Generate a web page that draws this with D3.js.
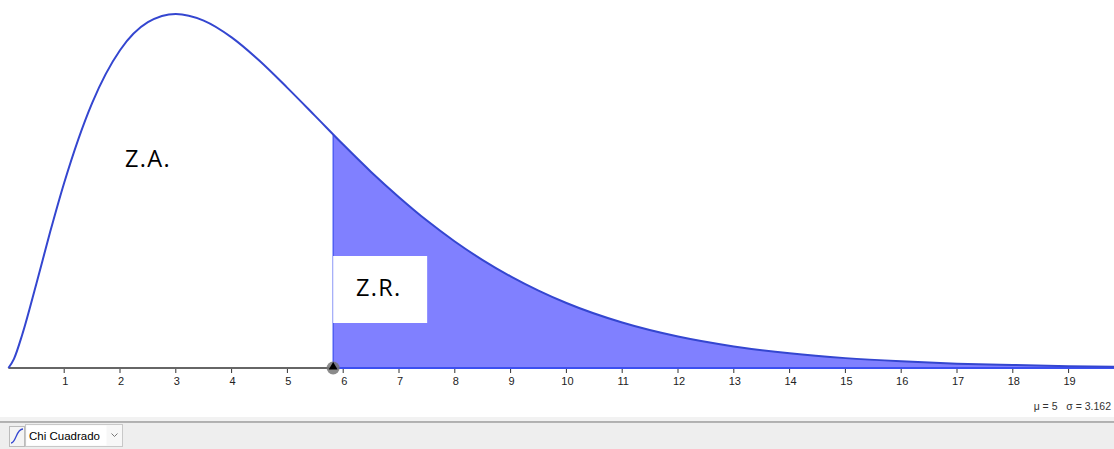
<!DOCTYPE html>
<html>
<head>
<meta charset="utf-8">
<script src="https://cdn.jsdelivr.net/npm/d3@7"></script>
<style>
  body { margin: 0; background: #fff; }
  svg { display: block; }
</style>
</head>
<body>
<div id="vis"></div>
<script>
// chi cuadrado, 5 grados de libertad

var xVals = [0, 0.1, 0.25, 0.5, 0.75, 1, 1.5, 2, 2.5, 3, 3.5, 4, 4.5, 5, 5.5, 6, 6.5, 7, 7.5, 8, 8.5, 9, 9.5, 10, 11, 12, 13, 14, 15, 16, 17, 18, 19, 20];
var density = [0, 0.0040, 0.0147, 0.0366, 0.0594, 0.0807, 0.1154, 0.1384, 0.1506, 0.1542, 0.1513, 0.1440, 0.1338, 0.1220, 0.1097, 0.0973, 0.0854, 0.0744, 0.0642, 0.0551, 0.0470, 0.0399, 0.0337, 0.0283, 0.0198, 0.0137, 0.0094, 0.0064, 0.0043, 0.0029, 0.0019, 0.0013, 0.0008, 0.0005];
var critical = [5.82, 0.1017];   // valor critico y su altura
var tickVals = d3.range(1, 20);
var stats = ['μ = 5', 'σ = 3.162'];
var zoneLabels = ['Z.A.', 'Z.R.'];

var W = 1114, H = 449;

svg = d3.select('#vis').append('svg')
  .attr('width', W)
  .attr('height', H);

var x = d3.scaleLinear().domain([0, 20]).range([8.4, 8.4 + 55.8 * 20]);
var y = d3.scaleLinear().domain([0, 0.158]).range([368, 5.2]);

var pts = xVals.map(function(v, i) { return [v, density[i]]; });
var tail = [critical].concat(pts.filter(function(p) { return p[0] > critical[0]; }));

// zona de rechazo
svg.append('path')
  .datum(tail)
  .attr('d', d3.area().x(function(d) { return x(d[0]); }).y0(y(0)).y1(function(d) { return y(d[1]); }).curve(d3.curveMonotoneX))
  .attr('fill', '#8080ff');

// borde izquierdo de la zona
svg.append('line')
  .attr('x1', x(critical[0])).attr('x2', x(critical[0]))
  .attr('y1', y(0)).attr('y2', y(critical[1]))
  .attr('stroke', '#3c4ff0').attr('stroke-width', 1.2);

// eje
svg.append('line')
  .attr('x1', x(0)).attr('x2', W)
  .attr('y1', y(0)).attr('y2', y(0))
  .attr('stroke', '#666').attr('stroke-width', 2);
svg.append('line')
  .attr('x1', x(critical[0])).attr('x2', W)
  .attr('y1', y(0)).attr('y2', y(0))
  .attr('stroke', '#3c4ff0').attr('stroke-width', 2);

var ax = svg.append('g').attr('transform', 'translate(0,' + y(0) + ')');
ax.selectAll('line.tk').data(tickVals).enter().append('line')
  .attr('class', 'tk')
  .attr('x1', function(d) { return x(d); }).attr('x2', function(d) { return x(d); })
  .attr('y1', 1).attr('y2', 5)
  .attr('stroke', '#333').attr('stroke-width', 1);
ax.selectAll('text').data(tickVals).enter().append('text')
  .attr('x', function(d) { return x(d) + 1; })
  .attr('y', 17)
  .attr('text-anchor', 'middle')
  .attr('font-family', 'Liberation Sans, Arial, sans-serif')
  .attr('font-size', 11)
  .attr('fill', '#222')
  .text(function(d) { return d; });

// curva
svg.append('path')
  .datum(pts)
  .attr('d', d3.line().x(function(d) { return x(d[0]); }).y(function(d) { return y(d[1]); }).curve(d3.curveMonotoneX))
  .attr('fill', 'none')
  .attr('stroke', '#3446d0')
  .attr('stroke-width', 2);

// punto del valor critico
svg.append('circle')
  .attr('cx', x(critical[0])).attr('cy', y(0))
  .attr('r', 6.5)
  .attr('fill', '#777').attr('opacity', 0.85);
svg.append('path')
  .attr('d', d3.symbol().type(d3.symbolTriangle).size(34))
  .attr('transform', 'translate(' + x(critical[0]) + ',' + (y(0) - 1) + ')')
  .attr('fill', '#000');

// etiquetas de zonas
svg.append('text')
  .attr('x', 125).attr('y', 167)
  .attr('font-family', 'Open Sans, sans-serif')
  .attr('font-size', 23.5)
  .attr('letter-spacing', 1.3)
  .attr('fill', '#000')
  .text(zoneLabels[0]);

svg.append('rect')
  .attr('x', x(critical[0])).attr('y', 256)
  .attr('width', 94).attr('height', 67)
  .attr('fill', '#fff');
svg.append('text')
  .attr('x', 356).attr('y', 296)
  .attr('font-family', 'Open Sans, sans-serif')
  .attr('font-size', 23.5)
  .attr('letter-spacing', 1.3)
  .attr('fill', '#000')
  .text(zoneLabels[1]);

// estadisticos
svg.append('text')
  .attr('x', 1111).attr('y', 410)
  .attr('text-anchor', 'end')
  .attr('font-family', 'Liberation Sans, Arial, sans-serif')
  .attr('font-size', 10.5)
  .attr('fill', '#333')
  .attr('xml:space', 'preserve')
  .text(stats[0] + '   ' + stats[1]);

// barra inferior
svg.append('rect').attr('x', 0).attr('y', 417).attr('width', W).attr('height', 5).attr('fill', '#f2f2f2');
svg.append('line').attr('x1', 0).attr('x2', W).attr('y1', 422).attr('y2', 422).attr('stroke', '#9a9a9a').attr('stroke-width', 1.5);
svg.append('rect').attr('x', 0).attr('y', 423).attr('width', W).attr('height', H - 423).attr('fill', '#eeeeee');

var bar = svg.append('g');
bar.append('rect').attr('x', 9.5).attr('y', 426.5).attr('width', 15).attr('height', 20).attr('fill', '#f4f4f4').attr('stroke', '#bbb');
bar.append('path')
  .attr('d', 'M11,443 C16,443 16,429 23,429')
  .attr('fill', 'none').attr('stroke', '#3446d0').attr('stroke-width', 1.3);
bar.append('rect').attr('x', 25.5).attr('y', 424.5).attr('width', 97).attr('height', 22).attr('fill', '#f7f7f7').attr('stroke', '#c8c8c8');
bar.append('rect').attr('x', 26.5).attr('y', 425.5).attr('width', 80).attr('height', 20).attr('fill', '#fff');
bar.append('text')
  .attr('x', 29).attr('y', 440)
  .attr('font-family', 'Liberation Sans, Arial, sans-serif')
  .attr('font-size', 11.5)
  .attr('fill', '#000')
  .text('Chi Cuadrado');
bar.append('path')
  .attr('d', 'M111.5,433.5 L114.5,436.5 L117.5,433.5')
  .attr('fill', 'none').attr('stroke', '#777').attr('stroke-width', 1);
</script>
</body>
</html>
